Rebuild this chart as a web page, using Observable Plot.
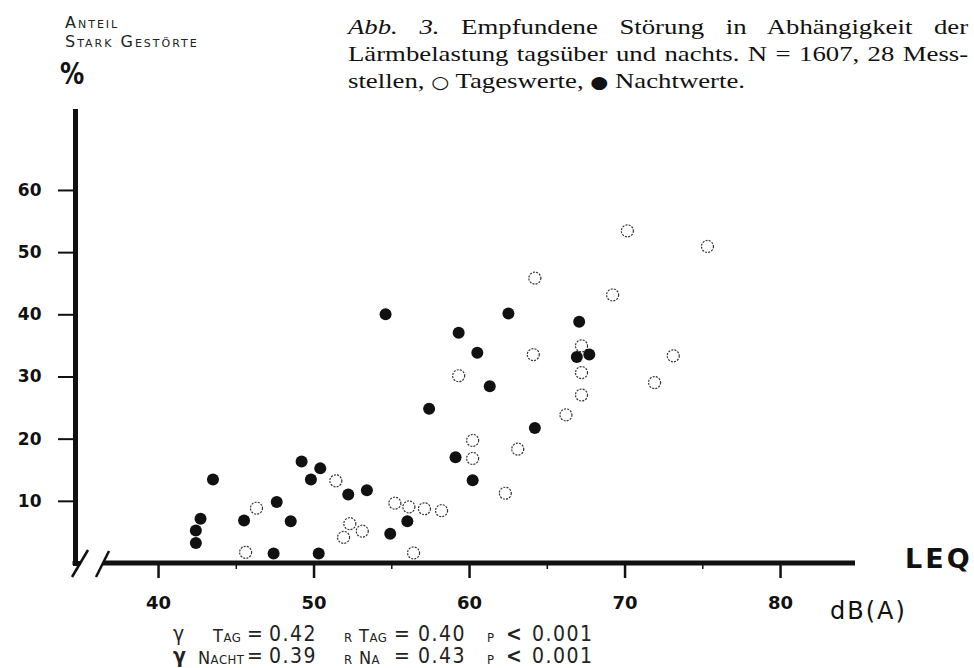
<!DOCTYPE html>
<html><head><meta charset="utf-8">
<script src="https://cdn.jsdelivr.net/npm/d3@7"></script>
<script src="https://cdn.jsdelivr.net/npm/@observablehq/plot@0.6"></script>
<style>
body{margin:0;background:#fff;}
#wrap{position:relative;width:974px;height:668px;overflow:hidden;background:#fff;color:#111;font-family:"DejaVu Sans",sans-serif;}
#chart{position:absolute;left:0;top:0;}
.abs{position:absolute;white-space:nowrap;line-height:1;}
#title{position:absolute;left:348px;top:13px;width:510px;transform:scaleX(1.216);transform-origin:0 0;font-family:"Liberation Serif","Times New Roman",serif;font-size:22px;line-height:27px;color:#111;}
#title .j{text-align:justify;text-align-last:justify;}
#title .sym{font-family:"DejaVu Sans",sans-serif;font-size:17px;}
.st{font-family:"Liberation Sans Narrow","DejaVu Sans Condensed",sans-serif;font-size:21px;color:#222;}
.stw{font-family:"Liberation Sans Narrow","DejaVu Sans Condensed",sans-serif;font-size:18px;font-variant:small-caps;color:#222;letter-spacing:0.5px;}
</style></head>
<body><div id="wrap"><div id="chart"></div>
<div class="abs" style="left:65px;top:13px;font-size:16px;line-height:19px;font-variant:small-caps;letter-spacing:2px;color:#222;">Anteil<br>Stark Gestörte</div>
<div class="abs" style="left:60px;top:58px;font-size:31px;font-weight:bold;transform:scaleX(0.78);transform-origin:0 0;">%</div>
<div id="title">
<div class="j"><i>Abb. 3.</i> Empfundene Störung in Abhängigkeit der</div>
<div class="j">Lärmbelastung tagsüber und nachts. N = 1607, 28 Mess-</div>
<div>stellen, <span class="sym">○</span> Tageswerte, <span class="sym">●</span> Nachtwerte.</div>
</div>
<div class="abs" style="left:905px;top:545px;font-size:27px;font-weight:bold;letter-spacing:3px;">LEQ</div>
<div class="abs" style="left:830px;top:599px;font-size:24px;letter-spacing:2px;">dB(A)</div>
<div id="stats"></div>
</div>
<script>
// Nachtwerte (filled)
const nightDb  = [42.4, 42.4, 42.7, 43.5, 45.5, 47.4, 47.6, 48.5, 49.2, 49.8, 50.4, 50.3, 52.2, 53.4, 54.6, 54.9, 56.0, 57.4, 59.1, 59.3, 60.2, 60.5, 61.3, 62.5, 64.2, 66.9, 67.05, 67.7];
const nightPct = [3.3, 5.3, 7.2, 13.5, 6.9, 1.6, 9.9, 6.8, 16.4, 13.5, 15.3, 1.6, 11.1, 11.8, 40.1, 4.8, 6.8, 24.9, 17.1, 37.1, 13.4, 33.9, 28.5, 40.2, 21.8, 33.2, 38.9, 33.6];
// Tageswerte (open)
const dayDb  = [45.6, 46.3, 51.4, 51.9, 52.3, 53.1, 55.2, 56.1, 56.4, 57.1, 58.2, 59.3, 60.2, 60.2, 62.3, 63.1, 64.1, 64.2, 66.2, 67.2, 67.2, 67.2, 69.2, 70.15, 71.9, 73.1, 75.3];
const dayPct = [1.8, 8.9, 13.3, 4.2, 6.4, 5.2, 9.7, 9.1, 1.7, 8.8, 8.5, 30.2, 19.8, 16.9, 11.3, 18.4, 33.6, 45.9, 23.9, 35.0, 30.7, 27.1, 43.2, 53.5, 29.1, 33.4, 51.0];
const xTicks = [40, 50, 60, 70, 80];
const xMinorTicks = [45, 55, 65, 75];
const yTicks = [10, 20, 30, 40, 50, 60];
const statRows = [
  ["γ", "Tag", "0.42", "Tag", "0.40", "0.001"],
  ["γ", "Nacht", "0.39", "Na", "0.43", "0.001"]
];

const night = nightDb.map((d, i) => ({db: d, pct: nightPct[i]}));
const day = dayDb.map((d, i) => ({db: d, pct: dayPct[i]}));

const plot = Plot.plot({
  width: 974, height: 668,
  marginLeft: 75, marginRight: 119, marginTop: 111, marginBottom: 105,
  style: {background: "transparent", fontFamily: "DejaVu Sans, sans-serif", color: "#111", overflow: "visible"},
  x: {domain: [34.66, 84.82]},
  y: {domain: [0, 72.7]},
  marks: [
    Plot.frame({anchor: "left", stroke: "#111", strokeWidth: 5}),
    Plot.axisY(yTicks, {tickSize: 17, tickPadding: 17, fontSize: 17, fontWeight: "bold", strokeWidth: 2, label: null, tickFormat: d => String(d)}),
    Plot.axisX(xTicks, {tickSize: 15, tickPadding: 18, fontSize: 18, fontWeight: "bold", strokeWidth: 2.5, label: null, tickFormat: d => String(d)}),
    Plot.axisX(xMinorTicks, {tickSize: 6, strokeWidth: 1.5, label: null, tickFormat: () => ""}),
    Plot.dot(day, {x: "db", y: "pct", r: 6, fill: "white", stroke: "#333", strokeWidth: 1.2, strokeDasharray: "2,1.2"}),
    Plot.dot(night, {x: "db", y: "pct", r: 6, fill: "#111", stroke: "none"})
  ]
});
document.getElementById("chart").appendChild(plot);

// x-axis line with broken-axis marks, placed from the scales
const xs = plot.scale("x"), ys = plot.scale("y");
const ox = xs.apply(xs.domain[0]), oy = ys.apply(0), xr = xs.apply(xs.domain[1]);
const g = d3.select(plot).append("g").attr("stroke", "#111").attr("fill", "none").attr("stroke-linecap", "butt");
g.append("line").attr("x1", ox + 28).attr("x2", xr).attr("y1", oy).attr("y2", oy).attr("stroke-width", 5);
g.append("line").attr("x1", ox - 2.5).attr("x2", ox + 6).attr("y1", oy).attr("y2", oy).attr("stroke-width", 4);
g.append("line").attr("x1", ox + 13).attr("y1", oy - 13).attr("x2", ox - 3).attr("y2", oy + 14).attr("stroke-width", 2.5);
g.append("line").attr("x1", ox + 34).attr("y1", oy - 12).attr("x2", ox + 21).attr("y2", oy + 14).attr("stroke-width", 2.5);

// statistics lines below the chart
const stats = document.getElementById("stats");
const rowTops = [624, 646];
statRows.forEach((r, i) => {
  const top = rowTops[i];
  const items = [
    [r[0], 173, "st", i === 1 ? "font-weight:bold" : ""],
    [r[1], i === 0 ? 213 : 198, "stw", "margin-top:3px"],
    ["=", 247, "st", ""],
    [r[2], 269, "st", "letter-spacing:1.5px"],
    ["r", 344, "stw", "margin-top:3px"],
    [r[3], 359, "stw", "margin-top:3px"],
    ["=", 394, "st", ""],
    [r[4], 418, "st", "letter-spacing:1.5px"],
    ["p", 487, "stw", "margin-top:3px"],
    ["<", 506, "st", "font-weight:bold"],
    [r[5], 532, "st", "letter-spacing:1.5px"]
  ];
  items.forEach(([t, left, cls, extra]) => {
    const s = document.createElement("div");
    s.className = "abs " + cls;
    s.style.cssText += `left:${left}px;top:${top}px;${extra}`;
    s.textContent = t;
    stats.appendChild(s);
  });
});
</script>
</body></html>
